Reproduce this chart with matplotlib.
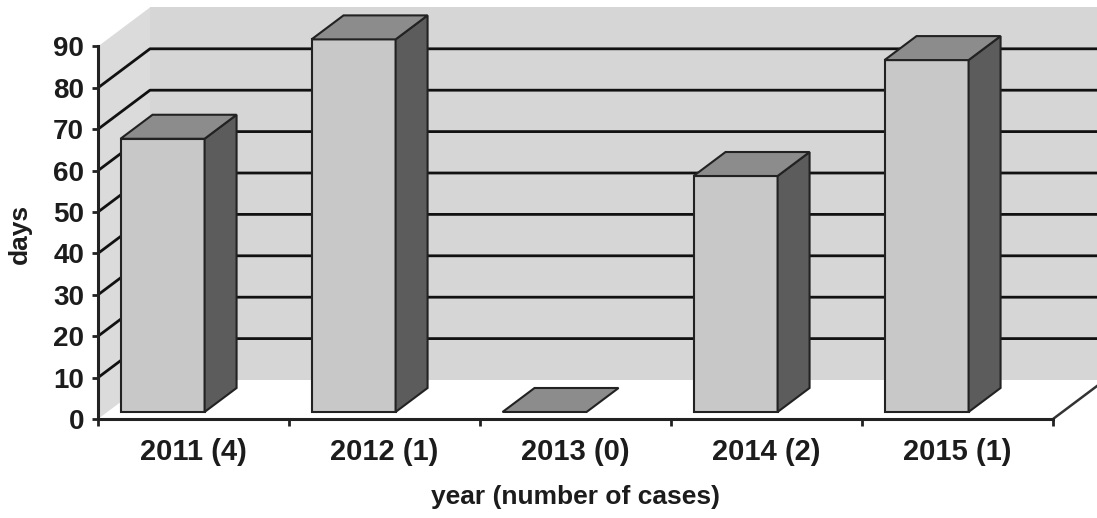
import matplotlib
matplotlib.use("Agg")
import matplotlib.pyplot as plt
from matplotlib.patches import Polygon

# Data
categories = ["2011 (4)", "2012 (1)", "2013 (0)", "2014 (2)", "2015 (1)"]
days = [66, 90, 0, 57, 85]
y_ticks = [0, 10, 20, 30, 40, 50, 60, 70, 80, 90]

plt.rcParams["font.family"] = ["Liberation Sans", "DejaVu Sans"]
plt.rcParams["font.weight"] = "bold"
TEXT = "#1c1c1c"

fig = plt.figure(figsize=(10.97, 5.18), dpi=100)
ax = fig.add_axes([98 / 1097, 99 / 518, 955 / 1097, 372.6 / 518])
ax.set_xlim(0, len(categories))
ax.set_ylim(0, 90)
ax.set_facecolor("none")

# oblique depth of the floor, in data units (x: categories, y: days)
DX, DV = 0.2723, 9.42
F0, F1 = 0.18, 0.795          # front / back depth fraction of the bars
BAR_SHIFT, BAR_W = 0.069, 0.44


def proj(x, v, d):
    return (x + d * DX, v + d * DV)


n = len(categories)
top = y_ticks[-1]

# walls
wall_col = "#d6d6d6"
back = Polygon([proj(0, 0, 1), proj(n, 0, 1), proj(n, top, 1), proj(0, top, 1)],
               closed=True, facecolor=wall_col, edgecolor="none", zorder=0, clip_on=False)
side = Polygon([proj(0, 0, 0), proj(0, top, 0), proj(0, top, 1), proj(0, 0, 1)],
               closed=True, facecolor="#dbdbdb", edgecolor="none", zorder=0, clip_on=False)
ax.add_patch(back)
ax.add_patch(side)

# gridlines on back and side walls
for v in y_ticks[1:-1]:
    (xa, ya), (xb, yb) = proj(0, v, 0), proj(0, v, 1)
    (xc, yc) = proj(n, v, 1)
    ax.plot([xa, xb, xc], [ya, yb, yc], color="#111111", lw=2.0,
            zorder=1, clip_on=False, solid_capstyle="butt")

# floor right edge
(xa, ya), (xb, yb) = proj(n, 0, 0), proj(n, 0, 1)
ax.plot([xa, xb], [ya, yb], color="#333333", lw=1.8, zorder=1, clip_on=False)

# bars
edge = "#222222"
for i, v in enumerate(days):
    x0 = i + BAR_SHIFT
    x1 = x0 + BAR_W
    top_face = [proj(x0, v, F0), proj(x1, v, F0), proj(x1, v, F1), proj(x0, v, F1)]
    if v > 0:
        front = [proj(x0, 0, F0), proj(x1, 0, F0), proj(x1, v, F0), proj(x0, v, F0)]
        side_face = [proj(x1, 0, F0), proj(x1, 0, F1), proj(x1, v, F1), proj(x1, v, F0)]
        ax.add_patch(Polygon(front, closed=True, facecolor="#c8c8c8", edgecolor=edge,
                             lw=1.5, zorder=3, clip_on=False, joinstyle="miter"))
        ax.add_patch(Polygon(side_face, closed=True, facecolor="#5c5c5c", edgecolor=edge,
                             lw=1.5, zorder=3, clip_on=False, joinstyle="miter"))
    ax.add_patch(Polygon(top_face, closed=True, facecolor="#8c8c8c", edgecolor=edge,
                         lw=1.5, zorder=3, clip_on=False, joinstyle="miter"))

# axes
for s in ("top", "right"):
    ax.spines[s].set_visible(False)
for s in ("left", "bottom"):
    ax.spines[s].set_color("#222222")
    ax.spines[s].set_linewidth(2.2)
    ax.spines[s].set_zorder(5)

ax.set_yticks(y_ticks)
ax.set_yticklabels([str(t) for t in y_ticks])
ax.tick_params(axis="y", direction="out", length=4, width=2.0, color="#222222",
               pad=6, labelsize=20, labelcolor=TEXT)

ax.set_xticks(range(n + 1))
ax.set_xticklabels([""] * (n + 1))
ax.set_xticks([i + 0.5 for i in range(n)], minor=True)
ax.set_xticklabels(categories, minor=True)
ax.tick_params(axis="x", which="major", direction="out", length=5, width=2.0,
               color="#222222")
ax.tick_params(axis="x", which="minor", length=0, pad=14, labelsize=21,
               labelcolor=TEXT)

ax.set_xlabel("year (number of cases)", fontsize=19, color=TEXT, fontweight="bold")
ax.xaxis.set_label_coords(0.5, -0.209)
ax.xaxis.label.set_va("center")
ax.set_ylabel("days", fontsize=19, color=TEXT, fontweight="bold")
ax.yaxis.set_label_coords(-0.0817, 0.4965)
ax.yaxis.label.set_va("center")

fig.savefig("out.png", dpi=100, facecolor="white")
